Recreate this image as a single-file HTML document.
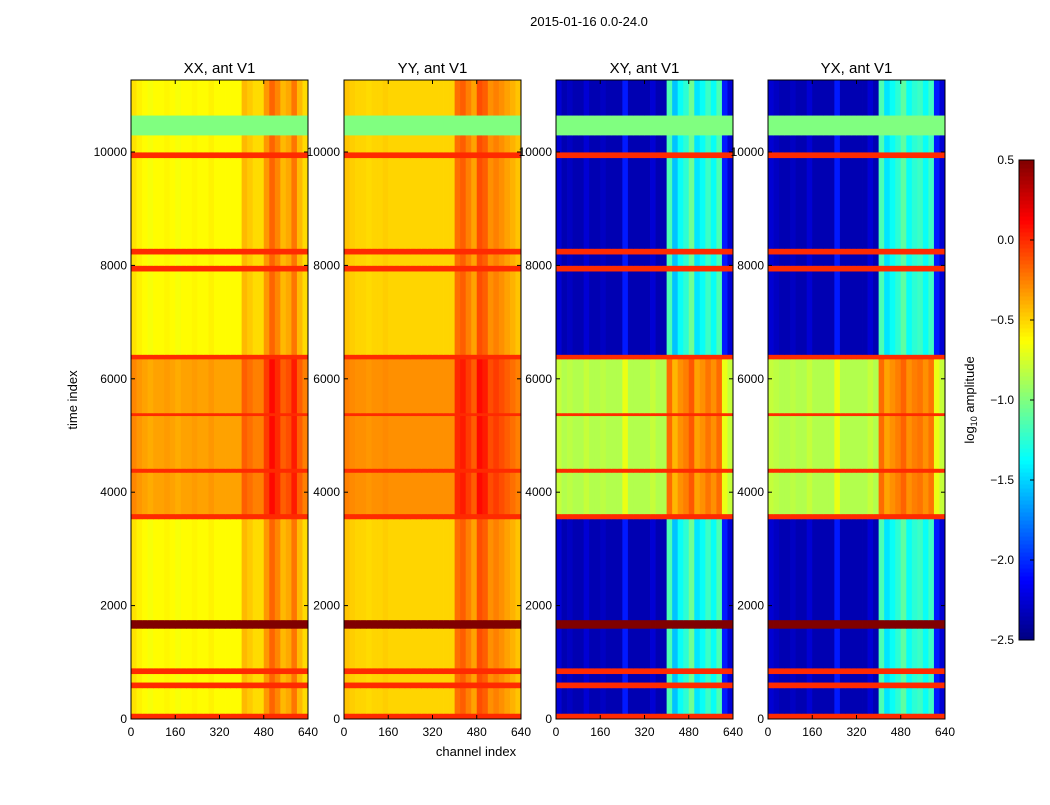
<!DOCTYPE html>
<html><head><meta charset="utf-8"><style>
body{margin:0;background:#fff;font-family:"Liberation Sans",sans-serif;}
svg text{font-family:"Liberation Sans",sans-serif;}
</style></head><body>
<svg id="fig" width="1050" height="800" xmlns="http://www.w3.org/2000/svg">
<rect width="1050" height="800" fill="#fff"/>
<text x="589" y="26" font-size="13" text-anchor="middle">2015-01-16 0.0-24.0</text>
<text x="476" y="756" font-size="13" text-anchor="middle">channel index</text>
<text transform="translate(77,400) rotate(-90)" font-size="13" text-anchor="middle">time index</text>
<g id="panels"></g>
<g id="cbar"></g>
</svg>
<script>
const polNames = ['XX, ant V1','YY, ant V1','XY, ant V1','YX, ant V1'];
const bandStarts = [0,100,550,650,800,900,1600,1750,3530,3620,4350,4420,5350,5400,6350,6430,7900,8000,8200,8300,9900,10000,10300,10650];
const bandKinds = ['f0','n','f0','n','f0','n','f5','n','f0','a','f0','a','f0','a','f0','n','f0','n','f0','n','f0','n','g','n'];
const normalBase = [-0.62,-0.5,-2.35,-2.35];
const activeBase = [-0.35,-0.3,-0.85,-0.85];
const activeScale = [1,1,0.55,0.55];
const chanXX = [0.08,0.03,0,-0.03,0,0,0.02,0,-0.03,0,0,0.02,0,0,0.03,0,0,0,0,0,0.2,0.15,0.1,0.1,0.3,0.45,0.35,0.2,0.25,0.4,0.2,0.1];
const chanYY = [0.05,0.02,0,0,-0.02,0,0,0.02,0,0,0,0,0,0,0,0,0,0,0,0,0.3,0.35,0.25,0.15,0.4,0.35,0.2,0.25,0.2,0.15,0.1,0.05];
const chanXY = [0.1,0,0.05,0,0,0.1,0,0,0.05,0,0,0,0.3,0,0,0,0,0.1,0,0,1.2,0.8,1.0,1.1,1.3,0.9,1.0,1.15,1.0,1.2,0.3,0.1];
const chanYX = [0.1,0.05,0,0,0.05,0,0,0.1,0,0,0,0,0.3,0,0,0,0,0,0.1,0,1.2,0.9,1.0,1.1,1.25,1.0,1.1,1.15,1.0,1.15,0.3,0.1];
const chanOff = [chanXX,chanYY,chanXY,chanYX];
const yTicks = [0,2000,4000,6000,8000,10000];
const xTicks = [0,160,320,480,640];
const cbTicks = [0.5,0.0,-0.5,-1.0,-1.5,-2.0,-2.5];
const cbTickLabels = ['0.5','0.0','\u22120.5','\u22121.0','\u22121.5','\u22122.0','\u22122.5'];
const panelX = [131,344,556,768];
const PW=177, PT=80, PB=719, TMAX=11270, CMAX=640, VMIN=-2.5, VMAX=0.5;
const NS='http://www.w3.org/2000/svg';
function jet(v){let t=(v-VMIN)/(VMAX-VMIN);t=Math.max(0,Math.min(1,t));
 const c=x=>Math.round(255*Math.max(0,Math.min(1,x)));
 const r=c(Math.min(4*t-1.5,-4*t+4.5)),g=c(Math.min(4*t-0.5,-4*t+3.5)),b=c(Math.min(4*t+0.5,-4*t+2.5));
 return `rgb(${r},${g},${b})`;}
function mk(tag,attrs,parent){const e=document.createElementNS(NS,tag);for(const k in attrs)e.setAttribute(k,attrs[k]);parent.appendChild(e);return e;}
const yS=t=>PB-(t/TMAX)*(PB-PT);
const panels=document.getElementById('panels');
for(let p=0;p<4;p++){
 const x0=panelX[p];const xS=c=>x0+c/CMAX*PW;
 const g=mk('g',{},panels);
 
 
 const nb=chanOff[p].length,bw=CMAX/nb;
 for(let b=0;b<bandStarts.length;b++){
  const t0=bandStarts[b],t1=b+1<bandStarts.length?bandStarts[b+1]:TMAX;
  const k=bandKinds[b];
  for(let i=0;i<nb;i++){
   let v;
   if(k==='f0')v=0.0;else if(k==='f5')v=0.5;else if(k==='g')v=-1.0;
   else if(k==='a')v=Math.min(0.3,activeBase[p]+chanOff[p][i]*activeScale[p]);
   else v=Math.min(0.3,normalBase[p]+chanOff[p][i]);
   const x1=xS(i*bw),x2=xS((i+1)*bw),y1=yS(t1),y2=yS(t0);
   const r=mk('rect',{x:x1,y:y1,width:x2-x1+0.4,height:y2-y1+0.4,fill:jet(v)},g);
   
   
  }
 }
 const fr=mk('rect',{x:x0,y:PT,width:PW,height:PB-PT,fill:'none',stroke:'#000','stroke-width':1},g);
 
 const tt=mk('text',{x:x0+PW/2,y:73,'font-size':15,'text-anchor':'middle'},g);tt.textContent=polNames[p];
 
 yTicks.forEach(v=>{const y=yS(v);
  mk('line',{x1:x0,x2:x0+4,y1:y,y2:y,stroke:'#000'},g);mk('line',{x1:x0+PW-4,x2:x0+PW,y1:y,y2:y,stroke:'#000'},g);
  const t=mk('text',{x:x0-4,y:y+4,'font-size':12,'text-anchor':'end'},g);t.textContent=v;
  });
 xTicks.forEach(v=>{const x=xS(v);
  mk('line',{x1:x,x2:x,y1:PB,y2:PB-4,stroke:'#000'},g);mk('line',{x1:x,x2:x,y1:PT,y2:PT+4,stroke:'#000'},g);
  const t=mk('text',{x:x,y:PB+17,'font-size':12,'text-anchor':'middle'},g);t.textContent=v;
  });
}
const cb=document.getElementById('cbar');
const CX=1019,CW=15,CT=160,CB=640;
const cyS=v=>CB-(v-VMIN)/(VMAX-VMIN)*(CB-CT);
for(let i=0;i<120;i++){const v0=VMIN+i*(VMAX-VMIN)/120,v1=VMIN+(i+1)*(VMAX-VMIN)/120;
 const r=mk('rect',{x:CX,y:cyS(v1),width:CW,height:cyS(v0)-cyS(v1)+0.5,fill:jet((v0+v1)/2)},cb);
 }
const cf=mk('rect',{x:CX,y:CT,width:CW,height:CB-CT,fill:'none',stroke:'#000'},cb);

cbTicks.forEach((v,i)=>{const y=cyS(v);mk('line',{x1:CX+CW-4,x2:CX+CW,y1:y,y2:y,stroke:'#000'},cb);
 const t=mk('text',{x:CX-5,y:y+4,'font-size':12,'text-anchor':'end'},cb);t.textContent=cbTickLabels[i];
 });
const cl=mk('text',{transform:'translate(974,400) rotate(-90)','font-size':13,'text-anchor':'middle'},cb);
cl.innerHTML='log<tspan font-size="9" dy="3">10</tspan><tspan dy="-3"> amplitude</tspan>';

</script>
</body></html>
